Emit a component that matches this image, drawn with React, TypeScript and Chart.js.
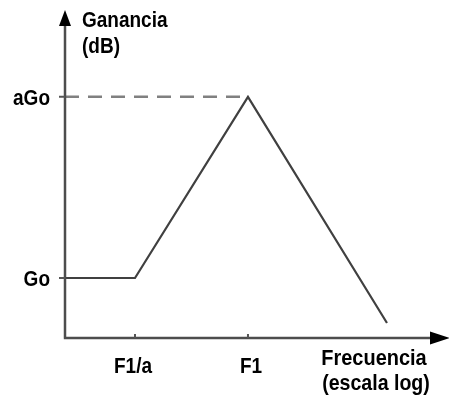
import React, { useEffect, useRef } from "react";
import { Chart, registerables } from "chart.js";

Chart.register(...registerables);

// Breakpoints of the asymptotic gain curve (frequency positions on a log-like axis)
const FREQ_POINTS = [0, 1, 2.614, 4.6];
const GAIN_POINTS = [1, 1, 4.02, 0.25];

// Reference (dashed) line at aGo up to F1
const DASH_FREQ = [0, 2.614];
const DASH_GAIN = [4.02, 4.02];

// Tick labels
const X_TICK_VALUES = [1, 2.614];
const X_TICK_LABELS = ["F1/a", "F1"];
const Y_TICK_VALUES = [4.02, 1];
const Y_TICK_LABELS = ["aGo", "Go"];
const Y_TITLE = ["Ganancia", "(dB)"];
const X_TITLE = ["Frecuencia", "(escala log)"];

const X_MAX = 5.486;
const Y_MAX = 5.467;

const FONT = 'bold 19px "Liberation Sans", Arial, sans-serif';

function drawText(ctx: any, text: string, x: number, y: number, sx = 1) {
  ctx.save();
  ctx.translate(x, y);
  ctx.scale(sx, 1.12);
  ctx.fillText(text, 0, 0);
  ctx.restore();
}

const axesPlugin = {
  id: "schematicAxes",
  afterDatasetsDraw(chart: any) {
    const { ctx, chartArea, scales } = chart;
    const xs = scales.x;
    const ys = scales.y;
    const x0 = xs.getPixelForValue(0);
    const y0 = ys.getPixelForValue(0);
    ctx.save();
    // axes
    ctx.strokeStyle = "#4d4d4d";
    ctx.lineWidth = 2.5;
    ctx.beginPath();
    ctx.moveTo(x0, y0);
    ctx.lineTo(x0, chartArea.top + 10);
    ctx.moveTo(x0 - 1.2, y0);
    ctx.lineTo(chartArea.right - 15, y0);
    ctx.stroke();
    // arrowheads
    ctx.fillStyle = "#000";
    ctx.beginPath();
    ctx.moveTo(x0, chartArea.top);
    ctx.lineTo(x0 - 6, chartArea.top + 16);
    ctx.lineTo(x0 + 6, chartArea.top + 16);
    ctx.closePath();
    ctx.fill();
    ctx.beginPath();
    ctx.moveTo(chartArea.right + 1, y0);
    ctx.lineTo(chartArea.right - 19, y0 - 6.5);
    ctx.lineTo(chartArea.right - 19, y0 + 6.5);
    ctx.closePath();
    ctx.fill();
    // ticks
    ctx.strokeStyle = "#555";
    ctx.lineWidth = 2;
    ctx.beginPath();
    X_TICK_VALUES.forEach((v) => {
      const px = xs.getPixelForValue(v);
      ctx.moveTo(px, y0);
      ctx.lineTo(px, y0 - 4);
    });
    Y_TICK_VALUES.forEach((v) => {
      const py = ys.getPixelForValue(v);
      ctx.moveTo(x0 - 6, py);
      ctx.lineTo(x0, py);
    });
    ctx.stroke();
    // labels
    ctx.fillStyle = "#000";
    ctx.font = FONT;
    ctx.textBaseline = "alphabetic";
    ctx.textAlign = "left";
    drawText(ctx, Y_TITLE[0], x0 + 17, 27);
    drawText(ctx, Y_TITLE[1], x0 + 17, 53);
    ctx.textAlign = "right";
    Y_TICK_VALUES.forEach((v, i) => {
      drawText(ctx, Y_TICK_LABELS[i], x0 - 15, ys.getPixelForValue(v) + 8);
    });
    ctx.textAlign = "center";
    const offs = [-2, 3];
    X_TICK_VALUES.forEach((v, i) => {
      drawText(ctx, X_TICK_LABELS[i], xs.getPixelForValue(v) + offs[i], y0 + 35);
    });
    drawText(ctx, X_TITLE[0], 374, y0 + 27, 1.05);
    drawText(ctx, X_TITLE[1], 376, y0 + 52, 1.03);
    ctx.restore();
  },
};

export default function App() {
  const ref = useRef<HTMLCanvasElement | null>(null);
  useEffect(() => {
    document.body.style.margin = "0";
    const canvas = ref.current;
    if (!canvas) return;
    const chart = new Chart(canvas, {
      type: "line",
      data: {
        datasets: [
          {
            data: FREQ_POINTS.map((x, i) => ({ x, y: GAIN_POINTS[i] })),
            borderColor: "#404040",
            borderWidth: 2.2,
            pointRadius: 0,
            tension: 0,
            fill: false,
          },
          {
            data: DASH_FREQ.map((x, i) => ({ x, y: DASH_GAIN[i] })),
            borderColor: "#808080",
            borderWidth: 2.5,
            borderDash: [14, 9],
            pointRadius: 0,
            fill: false,
          },
        ],
      },
      options: {
        animation: false,
        responsive: false,
        maintainAspectRatio: false,
        layout: { padding: { left: 65, right: 0, top: 10, bottom: 60 } },
        plugins: { legend: { display: false }, tooltip: { enabled: false } },
        scales: {
          x: { type: "linear", min: 0, max: X_MAX, display: false },
          y: { type: "linear", min: 0, max: Y_MAX, display: false },
        },
        elements: { line: { borderCapStyle: "butt" } },
      },
      plugins: [axesPlugin],
    });
    return () => chart.destroy();
  }, []);
  return (
    <div style={{ width: 449, height: 398, background: "#fff" }}>
      <canvas ref={ref} width={449} height={398} style={{ display: "block" }} />
    </div>
  );
}
